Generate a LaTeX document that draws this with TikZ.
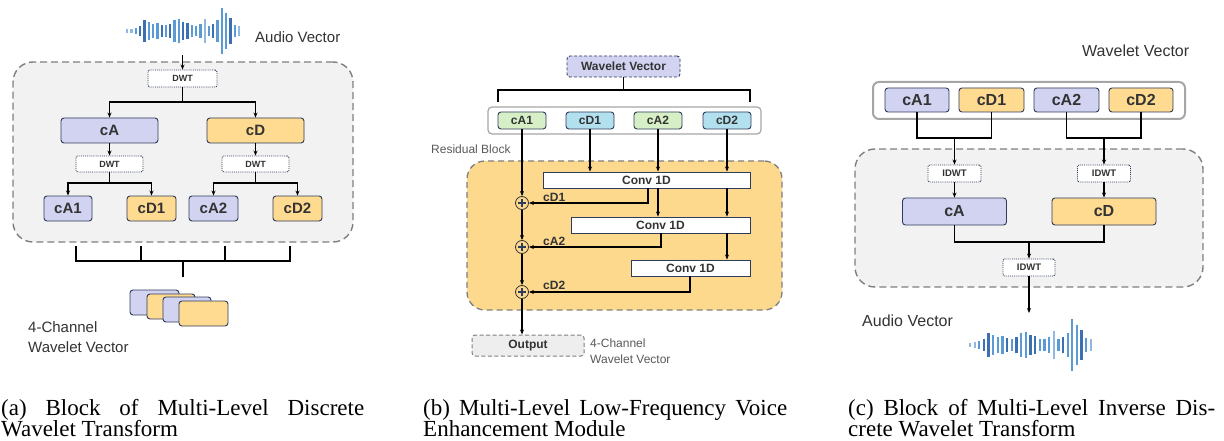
\documentclass[tikz,border=0pt]{standalone}
\usepackage{fontspec}
\setmainfont{Liberation Serif}
\setsansfont{Liberation Sans}
\usetikzlibrary{arrows.meta,calc}
\definecolor{navy}{HTML}{2E3B5A}
\definecolor{lav}{HTML}{D1D3F1}
\definecolor{org}{HTML}{FFDB91}
\definecolor{grn}{HTML}{D7EFC6}
\definecolor{blu}{HTML}{B3E0EE}
\definecolor{resfill}{HTML}{FDD98E}
\definecolor{gfill}{HTML}{F2F2F2}
\definecolor{gline}{HTML}{7F7F7F}
\definecolor{gtwo}{HTML}{A6A6A6}
\definecolor{outfill}{HTML}{EEEEEE}
\definecolor{txt}{HTML}{333333}
\definecolor{lgray}{HTML}{595959}
\definecolor{wl}{HTML}{8EB8E5}
\definecolor{wm}{HTML}{5B9BD5}
\definecolor{wd}{HTML}{3D6FB3}
\newcommand\myfs[1]{\fontsize{#1}{#1}\selectfont}
\newcommand\mywave[4]{%
  \foreach \hh/\cc [count=\ii from 0] in {2/wl,2.3/wl,3.3/wm,5.3/wd,10.7/wd,9/wm,7.3/wm,8.3/wm,6/wd,5.7/wm,7.3/wd,11/wm,12/wm,9/wd,7.7/wd,5.7/wm,5/wm,6.7/wm,12.3/wl,5/wm,7.3/wd,10.7/wm,23.3/wm,18.3/wm,13.3/wd,6/wm,5/wl}
  {\draw[\cc, line width=2.3pt] ({#1+#3*\ii},{#2-#4*\hh}) -- ({#1+#3*\ii},{#2+#4*\hh});}}
\tikzset{
  box/.style={draw=navy, line width=0.9pt, rounded corners=3pt, text=txt, font=\sffamily\bfseries, inner sep=0pt},
  lavbox/.style={box, fill=lav},
  orgbox/.style={box, fill=org},
  grnbox/.style={box, fill=grn},
  blubox/.style={box, fill=blu},
  dwtbox/.style={draw=navy, densely dotted, line width=0.9pt, fill=white, rounded corners=2pt, text=txt, inner sep=0pt},
  graybox/.style={draw=gline, fill=gfill, dash pattern=on 7pt off 4pt, line width=1.4pt, rounded corners=20pt, inner sep=0pt},
  resbox/.style={draw=gline, fill=resfill, dash pattern=on 6pt off 4pt, line width=1.3pt, rounded corners=18pt, inner sep=0pt},
  convbox/.style={draw=navy, fill=white, line width=0.9pt, text=txt, font=\sffamily\bfseries\myfs{12}, inner sep=0pt, minimum height=16pt},
  conn/.style={line width=1.1pt, black},
  arr/.style={conn, -{Stealth[length=5pt,width=4pt]}},
  lbl/.style={text=txt, font=\sffamily, inner sep=0pt, anchor=base west},
  plusc/.style={circle, draw=txt, fill=resfill, line width=0.8pt, minimum size=13pt, inner sep=0pt,
    path picture={\draw[navy, line width=1.7pt]
      ($(path picture bounding box.center)+(-4pt,0pt)$) -- ($(path picture bounding box.center)+(4pt,0pt)$)
      ($(path picture bounding box.center)+(0pt,-4pt)$) -- ($(path picture bounding box.center)+(0pt,4pt)$);}},
  captext/.style={inner sep=0pt, anchor=base west, font=\rmfamily\myfs{23}}
}
\begin{document}
\begin{tikzpicture}[x=1pt,y=-1pt]
\useasboundingbox (0,0) rectangle (1224,441);

% ================= (a) =================
\node[graybox, minimum width=340pt, minimum height=180pt] (ga) at (183,152) {};
\mywave{127.3}{31}{4.3}{1}
\coordinate (wa) at (182.5,55);
\node[lbl, font=\sffamily\myfs{15}] (ava) at (255,43) {Audio Vector};
\node[dwtbox, font=\sffamily\bfseries\myfs{9}, minimum width=69pt, minimum height=17pt] (d0) at (182.5,78.5) {DWT};
\draw[arr] (wa) -- (d0.north);
\node[lavbox, font=\sffamily\bfseries\myfs{15}, minimum width=97pt, minimum height=25pt] (ca) at (109.5,130.5) {cA};
\node[orgbox, font=\sffamily\bfseries\myfs{15}, minimum width=97pt, minimum height=25pt] (cd) at (255.5,130.5) {cD};
\coordinate (ya1) at (0,102);
\draw[arr] (d0.south) -- (d0.south |- ya1) -| (ca.north);
\draw[arr] (d0.south |- ya1) -| (cd.north);
\node[dwtbox, font=\sffamily\bfseries\myfs{9}, minimum width=67pt, minimum height=16pt] (d1) at (109.5,164) {DWT};
\node[dwtbox, font=\sffamily\bfseries\myfs{9}, minimum width=67pt, minimum height=16pt] (d2) at (255.5,164) {DWT};
\draw[arr] (ca.south) -- (d1.north);
\draw[arr] (cd.south) -- (d2.north);
\node[lavbox, font=\sffamily\bfseries\myfs{15}, minimum width=48pt, minimum height=25pt] (a1) at (68,208.5) {cA1};
\node[orgbox, font=\sffamily\bfseries\myfs{15}, minimum width=49pt, minimum height=25pt] (a2) at (151.5,208.5) {cD1};
\node[lavbox, font=\sffamily\bfseries\myfs{15}, minimum width=49pt, minimum height=25pt] (a3) at (213.5,208.5) {cA2};
\node[orgbox, font=\sffamily\bfseries\myfs{15}, minimum width=49pt, minimum height=25pt] (a4) at (297.5,208.5) {cD2};
\coordinate (ya2) at (0,183);
\draw[arr] (d1.south) -- (d1.south |- ya2) -| (a1.north);
\draw[arr] (d1.south |- ya2) -| (a2.north);
\draw[arr] (d2.south) -- (d2.south |- ya2) -| (a3.north);
\draw[arr] (d2.south |- ya2) -| (a4.north);
% bracket
\coordinate (t1) at (76,246);
\coordinate (t2) at (141,246);
\coordinate (t3) at (225,246);
\coordinate (t4) at (290,246);
\coordinate (tm) at (183,261);
\coordinate (ts) at (183,277);
\draw[conn] (t1) |- (tm);
\draw[conn] (t4) |- (tm);
\draw[conn] (t2) -- (t2 |- tm);
\draw[conn] (t3) -- (t3 |- tm);
\draw[conn] (tm) -- (ts);
% stacked
\node[lavbox, minimum width=49pt, minimum height=25pt] (s1) at (154.5,302.5) {};
\node[orgbox, minimum width=48pt, minimum height=25pt] (s2) at (171,306.5) {};
\node[lavbox, minimum width=48pt, minimum height=25pt] (s3) at (187,309.5) {};
\node[orgbox, minimum width=49pt, minimum height=25pt] (s4) at (203.5,313.5) {};
\node[lbl, font=\sffamily\myfs{15}] (fca) at (28,332) {4-Channel};
\node[lbl, font=\sffamily\myfs{15}] (wva) at (28,352) {Wavelet Vector};
\node[captext] (capa1) at (1,415) {\makebox[363pt][s]{(a) Block of Multi-Level Discrete}};
\node[captext] (capa2) at (1,436) {Wavelet Transform};

% ================= (b) =================
\node[box, fill=lav, dash pattern=on 3pt off 2pt, font=\sffamily\bfseries\myfs{12}, minimum width=113pt, minimum height=21pt] (wv) at (623.5,66.5) {Wavelet Vector};
\coordinate (bj) at (623.5,90);
\coordinate (bl) at (498,102);
\coordinate (br) at (750,102);
\draw[conn] (wv.south) -- (bj);
\draw[conn] (bl) |- (bj) -| (br);
\node[draw=gtwo, line width=1.2pt, rounded corners=4pt, fill=white, minimum width=273pt, minimum height=27pt, inner sep=0pt] (ob) at (624.5,120.5) {};
\node[grnbox, font=\sffamily\bfseries\myfs{12}, minimum width=48pt, minimum height=17pt] (ba1) at (522,120.5) {cA1};
\node[blubox, font=\sffamily\bfseries\myfs{12}, minimum width=48pt, minimum height=17pt] (bd1) at (590,120.5) {cD1};
\node[grnbox, font=\sffamily\bfseries\myfs{12}, minimum width=48pt, minimum height=17pt] (ba2) at (658,120.5) {cA2};
\node[blubox, font=\sffamily\bfseries\myfs{12}, minimum width=48pt, minimum height=17pt] (bd2) at (727,120.5) {cD2};
\node[lbl, text=lgray, font=\sffamily\myfs{12}] (rbl) at (431,154) {Residual Block};
\node[resbox, minimum width=315pt, minimum height=149pt] (rb) at (624.5,235.5) {};
\node[convbox, minimum width=207pt] (c1) at (646.5,180) {Conv 1D};
\node[convbox, minimum width=179pt] (c2) at (660.5,225) {Conv 1D};
\node[convbox, minimum width=119pt] (c3) at (690.5,268) {Conv 1D};
\node[plusc] (p1) at (522,203) {};
\node[plusc] (p2) at (522,247) {};
\node[plusc] (p3) at (522,292) {};
\node[box, draw=gline, fill=outfill, dash pattern=on 4pt off 2.5pt, line width=1pt, font=\sffamily\bfseries\myfs{12}, minimum width=112pt, minimum height=21pt] (out) at (528,345.5) {Output};
\coordinate (xa) at (648,0);
\coordinate (xb) at (661,0);
\coordinate (xc) at (690,0);
\draw[arr] (ba1.south) -- (p1.north);
\draw[arr] (bd1.south) -- (bd1.south |- c1.north);
\draw[arr] (ba2.south) -- (ba2.south |- c1.north);
\draw[arr] (bd2.south) -- (bd2.south |- c1.north);
\draw[arr] (c1.south -| xa) |- (p1.east);
\draw[arr] (c1.south -| ba2) -- (c2.north -| ba2);
\draw[arr] (c1.south -| bd2) -- (c2.north -| bd2);
\draw[arr] (c2.south -| xb) |- (p2.east);
\draw[arr] (c2.south -| bd2) -- (c3.north -| bd2);
\draw[arr] (c3.south -| xc) |- (p3.east);
\draw[arr] (p1.south) -- (p2.north);
\draw[arr] (p2.south) -- (p3.north);
\draw[arr] (p3.south) -- (p3.south |- out.north);
\node[lbl, font=\sffamily\bfseries\myfs{12}] (lcd1) at (543,201) {cD1};
\node[lbl, font=\sffamily\bfseries\myfs{12}] (lca2) at (543,245) {cA2};
\node[lbl, font=\sffamily\bfseries\myfs{12}] (lcd2) at (543,289) {cD2};
\node[lbl, text=lgray, font=\sffamily\myfs{12}] (fcb) at (590,347) {4-Channel};
\node[lbl, text=lgray, font=\sffamily\myfs{12}] (wvb) at (590,363) {Wavelet Vector};
\node[captext] (capb1) at (423,415) {\makebox[364pt][s]{(b) Multi-Level Low-Frequency Voice}};
\node[captext] (capb2) at (423,436) {Enhancement Module};

% ================= (c) =================
\node[lbl, font=\sffamily\myfs{16}] (wvc) at (1082,57) {Wavelet Vector};
\node[draw=gtwo, line width=2pt, rounded corners=6pt, fill=white, minimum width=312pt, minimum height=37pt, inner sep=0pt] (oc) at (1029,100.5) {};
\node[lavbox, font=\sffamily\bfseries\myfs{16}, minimum width=64pt, minimum height=24pt] (ca1) at (917,100) {cA1};
\node[orgbox, font=\sffamily\bfseries\myfs{16}, minimum width=65pt, minimum height=24pt] (cd1) at (991.5,100) {cD1};
\node[lavbox, font=\sffamily\bfseries\myfs{16}, minimum width=65pt, minimum height=24pt] (ca2) at (1066.5,100) {cA2};
\node[orgbox, font=\sffamily\bfseries\myfs{16}, minimum width=64pt, minimum height=24pt] (cd2) at (1141,100) {cD2};
\node[graybox, minimum width=348pt, minimum height=138pt] (gc) at (1029,218) {};
\coordinate (j1) at (954.5,138);
\coordinate (j2) at (1104,138);
\draw[conn] (ca1.south) |- (j1) -| (cd1.south);
\draw[conn] (ca2.south) |- (j2) -| (cd2.south);
\node[dwtbox, font=\sffamily\bfseries\myfs{9.5}, minimum width=53pt, minimum height=17pt] (i1) at (954.5,173.5) {IDWT};
\node[dwtbox, font=\sffamily\bfseries\myfs{9.5}, minimum width=53pt, minimum height=17pt] (i2) at (1104,173.5) {IDWT};
\draw[arr] (j1) -- (i1.north);
\draw[arr] (j2) -- (i2.north);
\node[lavbox, font=\sffamily\bfseries\myfs{16}, minimum width=104pt, minimum height=27pt] (cac) at (954.5,211.5) {cA};
\node[orgbox, font=\sffamily\bfseries\myfs{16}, minimum width=104pt, minimum height=27pt] (cdc) at (1104,211.5) {cD};
\draw[arr] (i1.south) -- (cac.north);
\draw[arr] (i2.south) -- (cdc.north);
\coordinate (j3) at (1029,242);
\draw[conn] (cac.south) |- (j3) -| (cdc.south);
\node[dwtbox, font=\sffamily\bfseries\myfs{9.5}, minimum width=52pt, minimum height=17pt] (i3) at (1029,267.5) {IDWT};
\draw[arr] (j3) -- (i3.north);
\coordinate (wc) at (1029,313);
\draw[arr] (i3.south) -- (wc);
\node[lbl, font=\sffamily\myfs{16}] (avc) at (862,326) {Audio Vector};
\mywave{970}{345}{4.65}{1.12}
\node[captext] (capc1) at (848,415) {\makebox[367pt][s]{(c) Block of Multi-Level Inverse Dis-}};
\node[captext] (capc2) at (848,436) {crete Wavelet Transform};
\end{tikzpicture}
\end{document}
